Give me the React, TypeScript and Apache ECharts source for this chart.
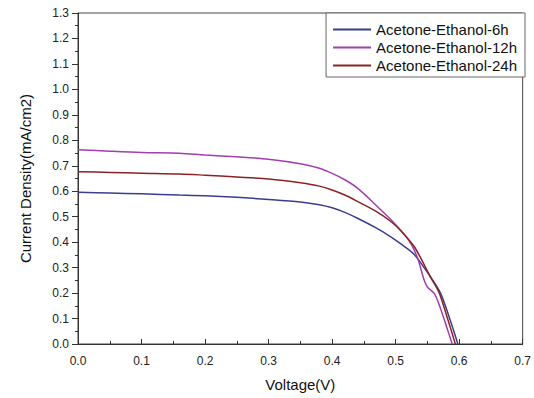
import React, { useEffect, useRef } from "react";
import * as echarts from "echarts";

const seriesNames = ["Acetone-Ethanol-6h", "Acetone-Ethanol-12h", "Acetone-Ethanol-24h"];
const seriesColors = ["#3b3d8e", "#a23db2", "#8a2323"];

const data6h: number[][] = [
  [0, 0.596], [0.05, 0.593], [0.1, 0.59], [0.16, 0.585], [0.2, 0.582], [0.25, 0.576],
  [0.3, 0.568], [0.35, 0.558], [0.38, 0.547], [0.4, 0.535], [0.42, 0.517], [0.44, 0.494],
  [0.47, 0.455], [0.49, 0.425], [0.51, 0.39], [0.53, 0.35], [0.555, 0.263], [0.571, 0.198],
  [0.586, 0.093], [0.598, 0],
];
const data12h: number[][] = [
  [0, 0.763], [0.05, 0.757], [0.1, 0.752], [0.16, 0.749], [0.2, 0.742], [0.25, 0.735],
  [0.3, 0.726], [0.35, 0.708], [0.38, 0.69], [0.4, 0.67], [0.42, 0.645], [0.44, 0.612],
  [0.47, 0.543], [0.493, 0.487], [0.52, 0.41], [0.534, 0.342], [0.545, 0.25],
  [0.55, 0.224], [0.561, 0.198], [0.568, 0.158], [0.58, 0.07], [0.589, 0],
];
const data24h: number[][] = [
  [0, 0.677], [0.05, 0.674], [0.1, 0.671], [0.16, 0.668], [0.2, 0.663], [0.25, 0.656],
  [0.3, 0.648], [0.35, 0.633], [0.38, 0.62], [0.4, 0.605], [0.42, 0.585], [0.44, 0.56],
  [0.47, 0.52], [0.493, 0.48], [0.51, 0.44], [0.53, 0.38], [0.555, 0.263],
  [0.568, 0.204], [0.581, 0.106], [0.594, 0],
];
const allData = [data6h, data12h, data24h];

const xName = "Voltage(V)";
const yName = "Current Density(mA/cm2)";

export default function App() {
  const ref = useRef<HTMLDivElement>(null);
  useEffect(() => {
    if (!ref.current) return;
    const chart = echarts.init(ref.current, undefined, { renderer: "svg" });
    const font = "Liberation Sans, Arial, sans-serif";
    chart.setOption({
      animation: false,
      backgroundColor: "#ffffff",
      textStyle: { fontFamily: font },
      grid: {
        left: 78,
        right: 9,
        top: 13,
        bottom: 54,
        show: true,
        borderColor: "#444",
        borderWidth: 1,
        backgroundColor: "transparent",
      },
      legend: {
        data: seriesNames,
        orient: "vertical",
        right: 9,
        top: 13,
        icon: "rect",
        itemWidth: 38,
        itemHeight: 2,
        itemGap: 3,
        padding: [9, 8, 4, 7],
        backgroundColor: "#ffffff",
        borderColor: "#666",
        borderWidth: 1,
        textStyle: { fontSize: 15, lineHeight: 15, color: "#111", fontFamily: font },
      },
      xAxis: {
        type: "value",
        min: 0,
        max: 0.7,
        interval: 0.1,
        name: xName,
        nameLocation: "middle",
        nameGap: 33,
        nameTextStyle: { fontSize: 15, color: "#111", fontFamily: font },
        axisLine: { show: true, onZero: false, lineStyle: { color: "#333", width: 1 } },
        axisTick: { show: true, inside: true, length: 5, lineStyle: { color: "#333" } },
        minorTick: { show: true, splitNumber: 2, length: 3, lineStyle: { color: "#333" } },
        splitLine: { show: false },
        axisLabel: {
          fontSize: 12,
          color: "#222",
          margin: 11,
          formatter: (v: number) => v.toFixed(1),
        },
      },
      yAxis: {
        type: "value",
        min: 0,
        max: 1.3,
        interval: 0.1,
        name: yName,
        nameLocation: "middle",
        nameGap: 45,
        nameTextStyle: { fontSize: 15, color: "#111", fontFamily: font },
        axisLine: { show: true, onZero: false, lineStyle: { color: "#333", width: 1 } },
        axisTick: { show: true, inside: false, length: 6, lineStyle: { color: "#333" } },
        minorTick: { show: true, splitNumber: 2, length: 3, lineStyle: { color: "#333" } },
        splitLine: { show: false },
        axisLabel: {
          fontSize: 12,
          color: "#222",
          margin: 9,
          formatter: (v: number) => v.toFixed(1),
        },
      },
      series: seriesNames.map((name, i) => ({
        name,
        type: "line",
        data: allData[i],
        symbol: "none",
        smooth: 0.3,
        color: seriesColors[i],
        lineStyle: { color: seriesColors[i], width: 1.5 },
      })),
    });
    return () => chart.dispose();
  }, []);
  return (
    <div
      ref={ref}
      style={{ position: "fixed", left: 0, top: 0, width: 534, height: 398 }}
    />
  );
}
